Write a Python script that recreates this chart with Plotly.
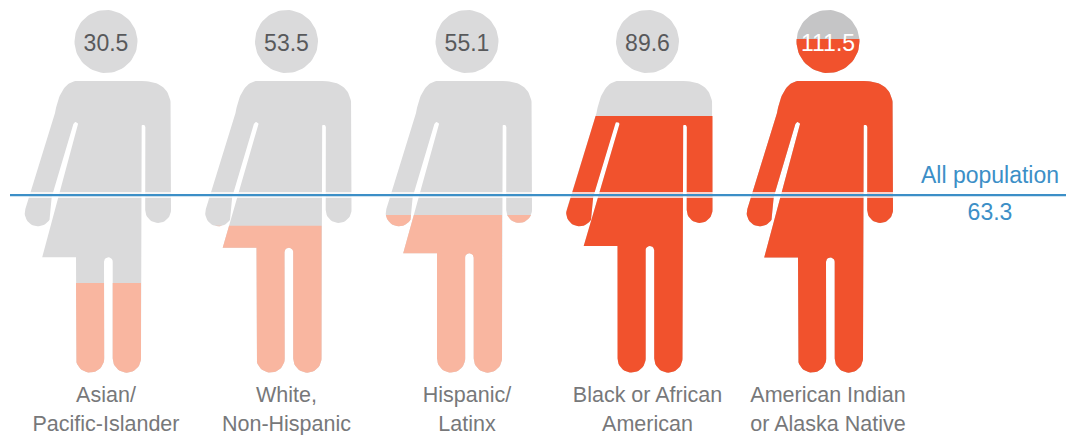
import math
import plotly.graph_objects as go

# ---- data ----
categories_line1 = ["Asian/", "White,", "Hispanic/", "Black or African", "American Indian"]
categories_line2 = ["Pacific-Islander", "Non-Hispanic", "Latinx", "American", "or Alaska Native"]
value_labels = [30.5, 53.5, 55.1, 89.6, 111.5]
fill_levels = [29.9, 49.0, 52.6, 85.6, 111.2]   # height the colour reaches in the figure
all_population = 63.3
all_population_level = 59.2
skirt_hem_px = [257.3, 247.7, 253.3, 246.0, 257.5]

# ---- colours ----
GREY = "#dadadb"
GREY_DARK = "#c5c5c6"
SALMON = "#f9b6a0"
ORANGE = "#f1522d"
BLUE = "#3c8fc7"

# ---- scale: 180.5 px per person on x, 3 px per unit on y ----
PX_X = 180.5
PX_Y = 3.0
BASE_PX = 372.7
X0_PX = 106.0
W, H = 1066, 435


def arc(cx, cy, r, a0, a1, n=24):
    return [(cx + r * math.cos(math.radians(a0 + (a1 - a0) * k / n)),
             cy + r * math.sin(math.radians(a0 + (a1 - a0) * k / n))) for k in range(n + 1)]


def quad(p0, c, p1, n=24):
    pts = []
    for k in range(n + 1):
        t = k / n
        pts.append(((1 - t) ** 2 * p0[0] + 2 * t * (1 - t) * c[0] + t ** 2 * p1[0],
                    (1 - t) ** 2 * p0[1] + 2 * t * (1 - t) * c[1] + t ** 2 * p1[1]))
    return pts


def body_outline(hem):
    """Glyph outline in pixels: dx from the person's centre, y from the top of the figure."""
    body = []
    body += quad((-24.3, 81), (-45, 78), (-51, 113))
    body += arc(-68, 213, 13.3, 198, 30)
    body += [(-54.3, 197)]
    body += arc(-30.3, 124.5, 2.4, 195, 345, 8)
    body += [(-63.8, hem), (-30, hem)]
    body += arc(-15.9, 358.5, 14.1, 180, 0)
    body += arc(2.35, hem + 4.35, 4.35, 180, 360, 10)
    body += arc(20.85, 358.5, 14.15, 180, 0)
    body += arc(37.2, 127, 2.15, 180, 360, 8)
    body += arc(52.1, 210, 12.9, 180, 0)
    body += quad((65, 108), (65, 81), (35.7, 81))
    return body


head = arc(0, 41.5, 31.5, 0, 360, 72)


def clip_below(poly, level_px):
    """Keep the part of a polygon lying below a horizontal level (pixel y larger)."""
    out = []
    for i, cur in enumerate(poly):
        nxt = poly[(i + 1) % len(poly)]
        a, b = cur[1] >= level_px, nxt[1] >= level_px
        if a:
            out.append(cur)
        if a != b:
            t = (level_px - cur[1]) / (nxt[1] - cur[1])
            out.append((cur[0] + t * (nxt[0] - cur[0]), level_px))
    return out


def to_axis(poly, i):
    xs = [i + p[0] / PX_X for p in poly]
    ys = [(BASE_PX - p[1]) / PX_Y for p in poly]
    return xs + [None], ys + [None]


fig = go.Figure()

for i, (lab, level, hem) in enumerate(zip(value_labels, fill_levels, skirt_hem_px)):
    colour = ORANGE if lab > all_population else SALMON
    body = body_outline(hem)
    # whole figure in grey
    x1, y1 = to_axis(body, i)
    x2, y2 = to_axis(head, i)
    fig.add_trace(go.Scatter(x=x1 + x2, y=y1 + y2, mode="lines", fill="toself",
                             fillcolor=GREY_DARK if level > 100 else GREY,
                             line=dict(width=0), hoverinfo="skip", showlegend=False))
    # the coloured part, up to the level of this category
    level_px = BASE_PX - level * PX_Y
    xs, ys = [], []
    for part in (body, head):
        clipped = clip_below(part, level_px)
        if clipped:
            a, b = to_axis(clipped, i)
            xs += a
            ys += b
    fig.add_trace(go.Scatter(x=xs, y=ys, mode="lines", fill="toself", fillcolor=colour,
                             line=dict(width=0), hoverinfo="skip", showlegend=False))

x_min = -X0_PX / PX_X
x_max = (W - X0_PX) / PX_X
y_min = (BASE_PX - H) / PX_Y
y_max = BASE_PX / PX_Y

# reference line, with its pale halo
line_start = (10 - X0_PX) / PX_X
fig.add_trace(go.Scatter(x=[line_start, x_max], y=[all_population_level] * 2, mode="lines",
                         line=dict(color="rgba(255,255,255,0.75)", width=6),
                         hoverinfo="skip", showlegend=False))
fig.add_trace(go.Scatter(x=[line_start, x_max], y=[all_population_level] * 2, mode="lines",
                         line=dict(color=BLUE, width=2.2), hoverinfo="skip", showlegend=False))

# value labels in the heads
idx = list(range(len(value_labels)))
head_y = (BASE_PX - 45) / PX_Y
fig.add_trace(go.Scatter(
    x=idx, y=[head_y] * len(idx), mode="text",
    text=[f"{v:.1f}" for v in value_labels], textposition="middle center",
    textfont=dict(family="Liberation Sans", size=23,
                  color=["white" if v > 100 else "#58595b" for v in value_labels]),
    hoverinfo="skip", showlegend=False))

# category labels
for lines, px in ((categories_line1, 397), (categories_line2, 426)):
    fig.add_trace(go.Scatter(
        x=idx, y=[(BASE_PX - px) / PX_Y] * len(idx), mode="text", text=lines,
        textposition="middle center",
        textfont=dict(family="Liberation Sans", size=21.5, color="#77787a"),
        hoverinfo="skip", showlegend=False))

# reference label
label_x = (990 - X0_PX) / PX_X
fig.add_trace(go.Scatter(
    x=[label_x, label_x], y=[(BASE_PX - 177) / PX_Y, (BASE_PX - 214) / PX_Y], mode="text",
    text=["All population", f"{all_population:.1f}"], textposition="middle center",
    textfont=dict(family="Liberation Sans", size=23, color=BLUE),
    hoverinfo="skip", showlegend=False))

fig.update_layout(
    width=W, height=H, margin=dict(l=0, r=0, t=0, b=0),
    paper_bgcolor="white", plot_bgcolor="white", showlegend=False,
    xaxis=dict(range=[x_min, x_max], visible=False, fixedrange=True),
    yaxis=dict(range=[y_min, y_max], visible=False, fixedrange=True),
)
fig.write_html("out.html", config={"displayModeBar": False},
               post_script="document.body.style.margin='0';document.body.style.overflow='hidden';")
